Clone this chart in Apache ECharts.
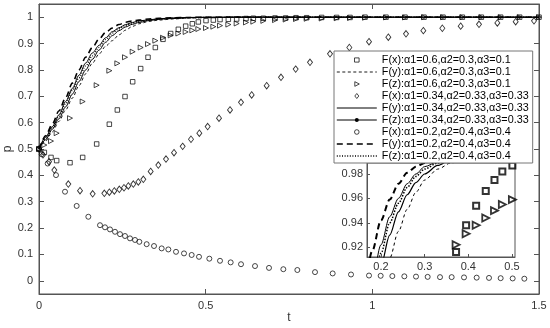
<!DOCTYPE html>
<html><head><meta charset="utf-8">
<script src="https://cdn.jsdelivr.net/npm/echarts@6/dist/echarts.min.js"></script>
<style>html,body{margin:0;padding:0;background:#fff}#c{width:550px;height:328px}</style>
</head><body><div id="c"></div>
<script>
// ---- data ----
const seriesNames = [
  'F(x):\u03b11=0.6,\u03b12=0.3,\u03b13=0.1',
  'F(y):\u03b11=0.6,\u03b12=0.3,\u03b13=0.1',
  'F(z):\u03b11=0.6,\u03b12=0.3,\u03b13=0.1',
  'F(x):\u03b11=0.34,\u03b12=0.33,\u03b13=0.33',
  'F(y):\u03b11=0.34,\u03b12=0.33,\u03b13=0.33',
  'F(z):\u03b11=0.34,\u03b12=0.33,\u03b13=0.33',
  'F(x):\u03b11=0.2,\u03b12=0.4,\u03b13=0.4',
  'F(y):\u03b11=0.2,\u03b12=0.4,\u03b13=0.4',
  'F(z):\u03b11=0.2,\u03b12=0.4,\u03b13=0.4'
];

// time grid of the continuous curves
const lineT = [0,0.02,0.04,0.06,0.08,0.10,0.12,0.14,0.16,0.18,0.20,0.22,0.24,0.26,0.28,0.30,0.33,0.36,0.40,0.45,0.50,0.60,0.80,1.00,1.25,1.50];
const fy_a06 = [0.5,0.53,0.565,0.605,0.648,0.693,0.74,0.785,0.825,0.86,0.89,0.911,0.933,0.951,0.965,0.975,0.984,0.989,0.993,0.997,0.998,1,1,1,1,1];
const fy_a034 = [0.5,0.545,0.585,0.63,0.68,0.73,0.78,0.826,0.864,0.893,0.922,0.945,0.96,0.972,0.98,0.986,0.99,0.994,0.997,0.999,1,1,1,1,1,1];
const fz_a034 = [0.5,0.535,0.575,0.615,0.66,0.708,0.756,0.80,0.84,0.875,0.905,0.93,0.949,0.963,0.973,0.98,0.987,0.992,0.995,0.998,0.999,1,1,1,1,1];
const fy_a02 = [0.5,0.55,0.595,0.645,0.695,0.75,0.80,0.848,0.885,0.917,0.942,0.959,0.972,0.981,0.986,0.989,0.993,0.996,0.998,0.999,1,1,1,1,1,1];
const fz_a02 = [0.5,0.54,0.58,0.625,0.672,0.722,0.77,0.815,0.853,0.885,0.915,0.94,0.956,0.969,0.978,0.984,0.989,0.993,0.996,0.998,0.999,1,1,1,1,1];

// marker series
const markT = [0,0.016,0.036,0.053,0.093,0.131,0.173,0.211,0.235,0.258,0.281,0.305,0.327,0.349,0.372,0.395,0.418,0.44,0.46,0.478,0.501,0.523,0.543,0.568,0.593,0.621,0.643,0.673,0.708,0.74,0.771,0.803,0.848,0.893,0.933,0.978,1.041,1.098,1.155,1.212,1.27,1.327,1.385,1.442,1.5];
const fx_a06 = [0.5,0.487,0.468,0.456,0.448,0.468,0.519,0.594,0.648,0.699,0.755,0.805,0.848,0.885,0.916,0.938,0.954,0.966,0.975,0.982,0.987,0.989,0.991,0.992,0.993,0.995,0.996,0.996,0.997,0.997,0.998,0.998,0.999,0.999,0.999,1,1,1,1,1,1,1,1,1,1];
const fz_a06 = [0.5,0.515,0.53,0.56,0.617,0.68,0.742,0.797,0.825,0.848,0.869,0.885,0.898,0.911,0.922,0.931,0.938,0.944,0.95,0.955,0.959,0.964,0.968,0.972,0.976,0.98,0.983,0.986,0.989,0.991,0.993,0.994,0.995,0.996,0.997,0.998,0.999,0.999,1,1,1,1,1,1,1];

const diaT = [0,0.012,0.03,0.046,0.088,0.123,0.161,0.196,0.211,0.226,0.241,0.255,0.268,0.283,0.298,0.313,0.335,0.358,0.381,0.405,0.431,0.456,0.481,0.506,0.54,0.573,0.606,0.638,0.683,0.726,0.77,0.813,0.873,0.931,0.99,1.048,1.101,1.153,1.21,1.265,1.32,1.375,1.43,1.485];
const fx_a034 = [0.5,0.478,0.452,0.42,0.367,0.342,0.33,0.332,0.336,0.341,0.347,0.353,0.36,0.367,0.375,0.385,0.415,0.439,0.462,0.486,0.51,0.537,0.56,0.585,0.617,0.648,0.677,0.705,0.74,0.772,0.803,0.829,0.861,0.885,0.907,0.924,0.937,0.949,0.958,0.966,0.973,0.978,0.983,0.986];

const cirT = [0,0.008,0.026,0.051,0.078,0.113,0.148,0.183,0.198,0.213,0.228,0.243,0.258,0.273,0.288,0.301,0.323,0.345,0.368,0.388,0.411,0.435,0.458,0.48,0.511,0.543,0.575,0.606,0.648,0.69,0.733,0.775,0.828,0.881,0.936,0.99,1.025,1.06,1.096,1.131,1.166,1.203,1.238,1.275,1.313,1.35,1.385,1.421,1.456];
const fx_a02 = [0.5,0.48,0.445,0.401,0.338,0.284,0.243,0.211,0.203,0.195,0.186,0.177,0.17,0.161,0.155,0.148,0.139,0.132,0.123,0.119,0.11,0.104,0.098,0.091,0.084,0.076,0.07,0.063,0.056,0.049,0.044,0.041,0.033,0.028,0.024,0.02,0.019,0.018,0.017,0.016,0.015,0.014,0.014,0.013,0.012,0.011,0.01,0.009,0.008];

// axis ticks
const mainXTicks = ['0','0.5','1','1.5'];
const mainYTicks = ['0','0.1','0.2','0.3','0.4','0.5','0.6','0.7','0.8','0.9','1'];

// ---- chart ----
const FONT = 'Liberation Sans';
const AX = '#555';
const LBL = '#333';
const pairs = (t, p) => t.map((v, i) => [v, p[i]]);
const NOFILL = 'rgba(0,0,0,0)';

function lineSeries(name, t, p, lw, dash, xi, yi, extra) {
  return Object.assign({
    name, type: 'line', data: pairs(t, p), xAxisIndex: xi, yAxisIndex: yi,
    symbol: 'none', smooth: 0.3, smoothMonotone: 'x', clip: true,
    lineStyle: { color: '#000', width: lw, type: dash },
    itemStyle: { color: NOFILL, borderColor: NOFILL, borderWidth: 0 },
    emphasis: { disabled: true }, silent: true
  }, extra || {});
}
function scatterSeries(name, t, p, symbol, size, bw, xi, yi, rot) {
  return {
    name, type: 'scatter', data: pairs(t, p), xAxisIndex: xi, yAxisIndex: yi,
    symbol, symbolSize: size, symbolRotate: rot || 0, clip: true,
    itemStyle: { color: NOFILL, borderColor: '#000', borderWidth: bw },
    emphasis: { disabled: true }, silent: true
  };
}

const dashThin = [3, 2.5], dashHeavy = [6, 4], dotted = [1, 1.6];
const series = [
  scatterSeries(seriesNames[0], markT, fx_a06, 'rect', 4.5, 0.9, 0, 0),
  lineSeries(seriesNames[1], lineT, fy_a06, 0.9, dashThin, 0, 0),
  scatterSeries(seriesNames[2], markT, fz_a06, 'triangle', 5, 0.9, 0, 0, -90),
  scatterSeries(seriesNames[3], diaT, fx_a034, 'diamond', [5, 6.5], 0.9, 0, 0),
  lineSeries(seriesNames[4], lineT, fy_a034, 1, 'solid', 0, 0),
  lineSeries(seriesNames[5], lineT, fz_a034, 1, 'solid', 0, 0,
    { symbol: 'circle', symbolSize: 2, showSymbol: false, itemStyle: { color: '#000', borderColor: NOFILL, borderWidth: 0 } }),
  scatterSeries(seriesNames[6], cirT, fx_a02, 'circle', 5, 0.9, 0, 0),
  lineSeries(seriesNames[7], lineT, fy_a02, 1.6, dashHeavy, 0, 0),
  lineSeries(seriesNames[8], lineT, fz_a02, 1.3, dotted, 0, 0),
  // inset copies
  scatterSeries(seriesNames[0], markT, fx_a06, 'rect', 6, 2, 2, 2),
  lineSeries(seriesNames[1], lineT, fy_a06, 1, [3, 3], 2, 2),
  scatterSeries(seriesNames[2], markT, fz_a06, 'triangle', 7, 1.8, 2, 2, -90),
  lineSeries(seriesNames[4], lineT, fy_a034, 1, 'solid', 2, 2),
  lineSeries(seriesNames[5], lineT, fz_a034, 1.2, 'solid', 2, 2,
    { itemStyle: { color: '#000', borderColor: NOFILL, borderWidth: 0 } }),
  lineSeries(seriesNames[7], lineT, fy_a02, 2, [6, 4], 2, 2),
  lineSeries(seriesNames[8], lineT, fz_a02, 1.5, [1.5, 1.5], 2, 2)
];

// legend icons for the marker entries: small glyph centred in a 40x5 box (so it is not stretched)
const legendIcons = {
  rect: 'path://M0,0M40,5M17.7,0.4L22.3,0.4L22.3,4.6L17.7,4.6Z',
  triangle: 'path://M0,0M40,5M18,0.2L22.5,2.5L18,4.8Z',
  diamond: 'path://M0,0M40,5M20,0L22,2.5L20,5L18,2.5Z',
  circle: 'path://M0,0M40,5M22.3,2.5A2.3,2.3,0,1,1,17.7,2.5A2.3,2.3,0,1,1,22.3,2.5Z'
};
const legendData = seriesNames.map((n, i) => {
  const s = series[i];
  return s.type === 'scatter'
    ? { name: n, icon: legendIcons[s.symbol], itemStyle: { color: NOFILL, borderColor: '#000', borderWidth: 0.9 } }
    : { name: n };
});

const tick = (len) => ({ show: true, inside: true, length: len, lineStyle: { color: AX, width: 1 } });
const axLine = { show: true, onZero: false, lineStyle: { color: AX, width: 1 } };
const lblStyle = (m) => ({ color: LBL, fontSize: 11, fontFamily: FONT, margin: m });

const chart = echarts.init(document.getElementById('c'), null, { renderer: 'canvas' });
chart.setOption({
  animation: false,
  backgroundColor: '#fff',
  grid: [
    { left: 39, top: 4, width: 500, height: 290, show: true, borderColor: AX, borderWidth: 1,
      backgroundColor: NOFILL, outerBoundsMode: 'none', containLabel: false },
    { left: 367, top: 163, width: 148, height: 94, show: true, borderColor: AX, borderWidth: 1,
      backgroundColor: '#fff', outerBoundsMode: 'none', containLabel: false }
  ],
  xAxis: [
    { type: 'value', gridIndex: 0, position: 'bottom', min: 0, max: 1.5, interval: 0.5,
      axisLine: axLine, axisTick: tick(5), splitLine: { show: false },
      axisLabel: Object.assign(lblStyle(6), { formatter: (v) => mainXTicks[Math.round(v / 0.5)] }),
      name: 't', nameLocation: 'middle', nameGap: 18, nameMoveOverlap: false,
      nameTextStyle: { color: LBL, fontSize: 12, fontFamily: FONT } },
    { type: 'value', gridIndex: 0, position: 'top', min: 0, max: 1.5, interval: 0.5,
      axisLine: axLine, axisTick: tick(5), splitLine: { show: false }, axisLabel: { show: false } },
    { type: 'value', gridIndex: 1, position: 'bottom', min: 0.168, max: 0.507, splitNumber: 3,
      axisLine: axLine, axisTick: tick(3), splitLine: { show: false },
      axisLabel: Object.assign(lblStyle(4), { showMinLabel: false, showMaxLabel: false }) }
  ],
  yAxis: [
    { type: 'value', gridIndex: 0, position: 'left', min: -0.05, max: 1.05, splitNumber: 11,
      axisLine: axLine, axisTick: tick(5), splitLine: { show: false },
      axisLabel: Object.assign(lblStyle(6), { showMinLabel: false, showMaxLabel: false,
        formatter: (v) => mainYTicks[Math.round(v * 10)] }),
      name: 'p', nameLocation: 'middle', nameGap: 25, nameRotate: 90, nameMoveOverlap: false,
      nameTextStyle: { color: LBL, fontSize: 12, fontFamily: FONT } },
    { type: 'value', gridIndex: 0, position: 'right', min: -0.05, max: 1.05, splitNumber: 11,
      axisLine: axLine, axisTick: tick(5), splitLine: { show: false }, axisLabel: { show: false } },
    { type: 'value', gridIndex: 1, position: 'left', min: 0.912, max: 0.989, splitNumber: 4,
      axisLine: axLine, axisTick: tick(3), splitLine: { show: false },
      axisLabel: Object.assign(lblStyle(4), { showMinLabel: false, showMaxLabel: false }) }
  ],
  legend: {
    data: legendData, orient: 'vertical', left: 334, top: 51,
    padding: [3, 4, 1, 2], itemGap: 0, itemWidth: 40, itemHeight: 5,
    backgroundColor: '#fff', borderColor: '#777', borderWidth: 1,
    selectedMode: false,
    textStyle: { color: '#000', fontSize: 10.8, fontFamily: FONT, lineHeight: 12 },
    itemStyle: { borderWidth: 'inherit' },
    lineStyle: { width: 'inherit' }
  },
  series
});
</script>
</body></html>
